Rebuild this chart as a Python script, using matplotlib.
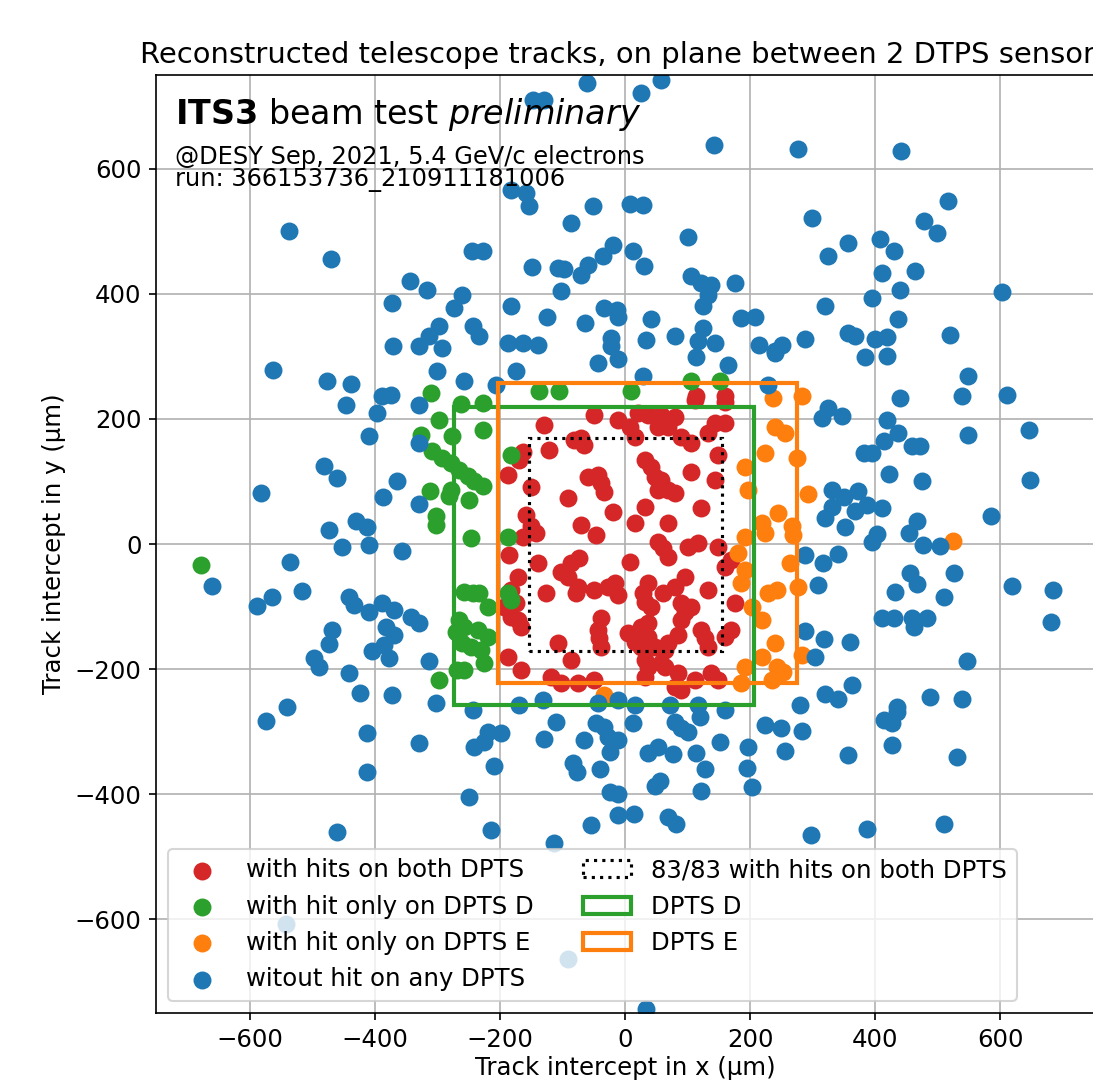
import numpy as np
import matplotlib
matplotlib.use("Agg")
import matplotlib.pyplot as plt
from matplotlib.patches import Rectangle

plt.rcParams["font.size"] = 11.7

# track intercepts (um) on the plane between the two sensors, split by hit category
both_x = [-49, -11, 21, 37, 58, 79, 52, 68, 7, 15, 111, 159, 143, 159, 132, 90, 106, -130, -121, -163,
          -169, -81, -65, -70, -188, -150, -60, -44, -38, -33, -92, 31, 42, 47, 58, 68, 52, 79, 106, 122,
          148, 143, 31, -20, 15, 68, -70, -46, -158, -150, -163, -142, -185, -140, -102, -86, -73, -92, -76, -78,
          -126, -49, -28, -17, -12, 7, 52, 60, 68, 100, 116, 148, 159, 170, 37, 28, 31, 42, 60, 79,
          95, 90, 95, 106, 90, 84, 132, 175, -38, -44, -41, -38, 5, 15, 26, 37, 37, 26, 47, 63,
          68, 122, 127, 132, 159, 170, -108, -86, -188, -166, -171, -182, -174, -171, -166, -182, -193, -118, -102, -49,
          31, 37, 63, 84, 111, 138, 148, 79, 90, 58, 31, -76, 114, 159]
both_y = [206, 198, 209, 206, 206, 203, 187, 187, 187, 171, 230, 227, 193, 193, 177, 171, 161, 190, 150, 147,
          134, 166, 158, 169, 110, 91, 107, 110, 97, 83, 73, 134, 123, 107, 102, 86, 86, 81, 115, 57,
          142, 102, 59, 51, 33, 33, 30, 14, 46, 28, 12, 17, -18, -31, -45, -31, -23, -53, -69, -79,
          -79, -74, -69, -63, -82, -28, 4, -7, -20, -4, 1, -4, -36, -26, -63, -79, -92, -100, -79, -69,
          -53, -95, -109, -101, -122, -146, -74, -95, -119, -138, -151, -165, -143, -157, -133, -127, -148, -165, -165, -170,
          -159, -138, -151, -165, -149, -138, -159, -186, -181, -202, -53, -74, -95, -122, -133, -116, -100, -212, -223, -218,
          -186, -197, -197, -207, -218, -207, -218, -228, -234, -191, -212, -223, 236, 236]

only_d_x = [-310, -137, -105, 10, 106, 151, -678, -298, -326, -276, -308, -292, -278, -265, -252, -241, -312, -278, -281, -250,
            -302, -302, -246, -257, -244, -265, -257, -270, -260, -246, -268, -257, -297, -262, -228, -228, -228, -182, -188,
            -233, -220, -188, -182, -236, -220, -230, -225]
only_d_y = [241, 244, 244, 244, 260, 260, -34, 198, 174, 172, 148, 137, 129, 118, 108, 100, 84, 86, 76, 71,
            44, 30, 9, -76, -79, -122, -132, -140, -159, -164, -202, -202, -218, 224, 225, 182, 92, 142, 12,
            -79, -100, -79, -90, -138, -148, -170, -191]

only_e_x = [236, 282, 239, 223, 255, 274, 191, 196, 293, 244, 218, 223, 191, 266, 268, 180, 263, 191, 186, 228,
            276, 242, 202, 218, 239, 282, 218, 191, 242, 252, 186, 234, -33, 524]
only_e_y = [233, 236, 187, 145, 177, 137, 123, 86, 80, 49, 33, 17, 11, 28, 14, -15, -30, -42, -63, -79,
            -68, -74, -100, -122, -159, -178, -180, -196, -196, -204, -223, -218, -242, 5]

none_x = [-537, -470, -344, -317, -373, -260, -273, -245, -297, -313, -329, -371, -292, -244, -300, -563, -476, -438, -257,
          -61, 58, 26, -148, -129, 142, -182, -158, -153, -52, 7, 28, -86, 100, -228, -20, -36, 12, 30, -149,
          -108, -97, -60, -70, -102, 105, 122, 138, 175, 132, 124, -183, -125, -64, -34, -13, -12, 41, 185, 207,
          -233, -188, -164, -139, -22, -22, 34, 79, 124, 116, 143, 214, 239, -44, -12, 114, 164, -174, 28, -206, 228,
          277, 441, 516, 299, 477, 499, 356, 325, 408, 429, 411, 464, 440, 395, 603, 320, 436, 356, 368, 400,
          419, 519, 287, 250, 240, 384, 418, 548, 440, 539, 611,
          324, 314, 347, 419, 436, 414, 458, 472, 548, 645, 382, 394, 421, 474, 647, 331, 373, 350, 386, 367,
          410, 330, 319, 352, 585, 466, 453, 403, 394, 476, 503, 287, 316, 341, 308, 456, 467, 526, 432, 510,
          619, 684, 681, 410, 430, 458, 483, 462, 287, 318, 359, 303, 547, 362, 319, 340, 488, 538, 280, 435,
          249, 282, 255, 356, 414, 427, 435, 427, 530, 297, 387, 510,
          -244, -169, -44, 15, 71, 116, 159, -110, -46, -33, 12, 79, 90, 100, 119, 223, -220, -198, -241, -225,
          -129, -65, -28, -12, -25, 36, 52, 76, 114, 151, 196, -209, -84, -77, -40, 127, 195, 202, 122, 47,
          56, -25, -12, -249, -12, 14, 68, 82, -54, -214, -113, 34, -92, -132, -12,
          -574, -412, -413, -329, -460, -542,
          -447, -396, -388, -374, -329, -410, -481, -460, -582, -365, -387, -329, -329, -473, -431, -412, -453, -409, -356,
          -661, -536, -516, -588, -565, -442, -433, -409, -388, -369, -342, -329, -382, -369, -468, -474, -385, -404,
          -377, -314, -497, -490, -442, -424, -373, -302, -541]
none_y = [500, 455, 421, 406, 385, 398, 377, 469, 349, 332, 316, 317, 313, 348, 277, 279, 261, 256, 260,
          738, 742, 721, 710, 710, 638, 566, 561, 540, 540, 544, 542, 513, 491, 468, 478, 461, 468, 445, 443,
          441, 440, 446, 430, 405, 428, 417, 414, 418, 398, 381, 380, 363, 354, 377, 374, 363, 360, 361, 363,
          332, 321, 321, 318, 329, 316, 326, 333, 345, 324, 321, 318, 308, 289, 296, 299, 286, 277, 269, 254, 254,
          632, 629, 548, 521, 516, 498, 481, 461, 488, 469, 434, 437, 406, 393, 403, 380, 360, 337, 332, 328,
          331, 334, 328, 318, 305, 299, 300, 268, 233, 236, 238,
          217, 201, 205, 198, 178, 165, 157, 157, 174, 183, 146, 145, 112, 101, 102, 86, 85, 75, 62, 53,
          57, 59, 41, 27, 45, 36, 17, 16, 4, -2, -3, -18, -30, -16, -66, -47, -64, -47, -76, -84,
          -67, -73, -124, -118, -118, -118, -118, -133, -139, -152, -156, -180, -187, -226, -240, -248, -245, -248, -258, -261,
          -295, -299, -331, -338, -282, -287, -268, -322, -340, -466, -456, -448,
          -266, -258, -255, -258, -258, -258, -266, -284, -287, -292, -286, -284, -295, -300, -276, -290, -300, -303, -324, -316,
          -312, -314, -308, -314, -332, -335, -324, -336, -334, -316, -324, -355, -351, -364, -360, -360, -359, -389, -395, -387,
          -379, -396, -399, -404, -434, -432, -436, -448, -450, -458, -478, -743, -663, -250, -250,
          -283, -303, -364, -318, -460, -608,
          222, 209, 236, 238, 222, 173, 124, 105, 81, 100, 75, 64, 161, 22, 36, 27, -5, -2, -11,
          -67, -28, -75, -99, -84, -84, -98, -108, -95, -106, -116, -127, -132, -146, -138, -160, -162, -171,
          -183, -187, -183, -196, -207, -239, -242, -254, -260]

labels = ["with hits on both DPTS", "with hit only on DPTS D",
          "with hit only on DPTS E", "witout hit on any DPTS"]

# sensor outlines (x0, y0, width, height) in um
fid_box = (-154, -171, 309, 341)
dpts_d = (-274, -258, 480, 477)
dpts_e = (-203, -222, 477, 480)

fig = plt.figure(figsize=(1093 / 150, 1084 / 150), dpi=150)
ax = fig.add_axes([0.1427, 0.0655, 0.8585, 0.8653])

s = 58
sc_red = ax.scatter(both_x, both_y, s=s, color="tab:red", label=labels[0], zorder=2)
sc_green = ax.scatter(only_d_x, only_d_y, s=s, color="tab:green", label=labels[1], zorder=2)
sc_orange = ax.scatter(only_e_x, only_e_y, s=s, color="tab:orange", label=labels[2], zorder=2)
sc_blue = ax.scatter(none_x, none_y, s=s, color="tab:blue", label=labels[3], zorder=2)

r_fid = Rectangle(fid_box[:2], fid_box[2], fid_box[3], fill=False, ec="black",
                  ls=":", lw=1.5, zorder=3, label="83/83 with hits on both DPTS")
r_d = Rectangle(dpts_d[:2], dpts_d[2], dpts_d[3], fill=False, ec="tab:green",
                lw=2, zorder=3, label="DPTS D")
r_e = Rectangle(dpts_e[:2], dpts_e[2], dpts_e[3], fill=False, ec="tab:orange",
                lw=2, zorder=3, label="DPTS E")
for r in (r_fid, r_d, r_e):
    ax.add_patch(r)

ax.set_xlim(-750, 750)
ax.set_ylim(-750, 750)
ticks = np.arange(-600, 601, 200)
ax.set_xticks(ticks)
ax.set_yticks(ticks)
ax.grid(True)
ax.set_axisbelow(True)

ax.set_xlabel("Track intercept in x (µm)", labelpad=2)
ax.set_ylabel("Track intercept in y (µm)")
ax.set_title("Reconstructed telescope tracks, on plane between 2 DTPS sensors", fontsize=13.9)

ax.text(0.02, 0.978, r"$\bf{ITS3}$ beam test $\it{preliminary}$", transform=ax.transAxes,
        fontsize=16, va="top", ha="left")
ax.text(0.02, 0.925, "@DESY Sep, 2021, 5.4 GeV/c electrons\nrun: 366153736_210911181006",
        transform=ax.transAxes, fontsize=11.6, va="top", ha="left", linespacing=0.9)

ax.legend(handles=[sc_red, sc_green, sc_orange, sc_blue, r_fid, r_d, r_e],
          loc="lower left", ncol=2)

fig.savefig("out.png", dpi=150)
